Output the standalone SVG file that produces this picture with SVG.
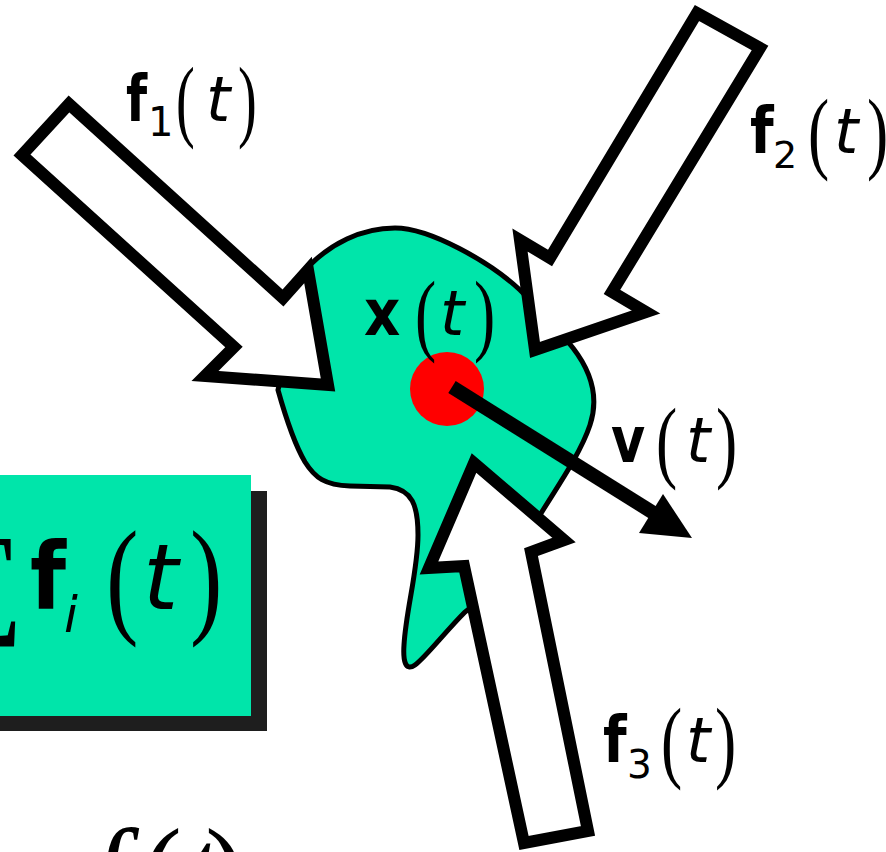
<svg xmlns="http://www.w3.org/2000/svg" width="886" height="852" viewBox="0 0 886 852">
<style>
.blk{stroke:#000;stroke-width:12;stroke-linejoin:miter;stroke-miterlimit:10;fill:#fff}
.bf{font-family:"DejaVu Sans",Verdana,sans-serif;font-weight:bold}
.it{font-family:"DejaVu Sans",Verdana,sans-serif;font-style:oblique}
.rg{font-family:"DejaVu Sans",Verdana,sans-serif}
.pr{font-family:"Liberation Serif","Times New Roman",serif}
.lp{font-family:"Liberation Serif","Times New Roman",serif;font-size:91px}
</style>
<rect width="886" height="852" fill="#fff"/>
<g id="sum-box">
<rect x="-10" y="491" width="277" height="240" fill="#1e1e1e"/>
<rect x="-10" y="475" width="261" height="241" fill="#00e5aa"/>
<text class="pr" x="24" y="620" font-size="124" text-anchor="end">∑</text>
<text class="bf" font-size="92" transform="translate(30,609) scale(0.9,1)">f</text>
<text class="it" x="64" y="632" font-size="50">i</text>
<text class="pr" font-size="130" transform="translate(106,620) scale(0.75,1)">(</text>
<text class="it" x="143" y="609" font-size="90">t</text>
<text class="pr" font-size="130" transform="translate(190,620) scale(0.75,1)">)</text>
</g>
<g id="blob">
<path d="M310,265 C330,245 360,228 395,228 C430,228 490,262 520,290 L550,320 L573,348 C590,370 600,395 590,425 C580,455 555,490 540,515 L520,560 L480,600 L465,612 C445,632 425,658 415,665 C405,672 403,660 404,645 C406,610 418,570 418,535 C418,505 412,490 390,487 L350,486 C325,485 315,478 305,462 C295,445 285,415 278,390 L295,320 Z" fill="#00e5aa" stroke="#000" stroke-width="5"/>
<circle cx="447" cy="389" r="37" fill="#ff0000"/>
<text class="bf" font-size="64" transform="translate(364,335) scale(0.88,1)">x</text>
<text class="lp" transform="translate(415,344) scale(0.7,1)">(</text>
<text class="it" x="440" y="335" font-size="62">t</text>
<text class="lp" transform="translate(474,344) scale(0.7,1)">)</text>
</g>
<g id="force1">
<polygon class="blk" points="69,104 283,298 308,270 328,385 205,376 234,347 22,155"/>
<text class="bf" font-size="64" transform="translate(126,121) scale(0.76,1)">f</text>
<text class="rg" x="148" y="136" font-size="40">1</text>
<text class="lp" transform="translate(176,130) scale(0.62,1)">(</text>
<text class="it" x="206" y="121" font-size="62">t</text>
<text class="lp" transform="translate(238,130) scale(0.62,1)">)</text>
</g>
<g id="force2">
<polygon class="blk" points="697,13 760,48 612,292 646,312 535,350 520,240 550,258"/>
<text class="bf" font-size="64" transform="translate(750,153) scale(0.85,1)">f</text>
<text class="rg" x="773" y="168" font-size="38">2</text>
<text class="lp" transform="translate(808,162) scale(0.7,1)">(</text>
<text class="it" x="834" y="153" font-size="62">t</text>
<text class="lp" transform="translate(867,162) scale(0.7,1)">)</text>
</g>
<g id="force3">
<polygon class="blk" points="474,463 564,540 531,552 588,831 524,843 464,566 429,568"/>
<text class="bf" font-size="64" transform="translate(603,762) scale(0.85,1)">f</text>
<text class="rg" x="627" y="778" font-size="39">3</text>
<text class="lp" transform="translate(661,771) scale(0.7,1)">(</text>
<text class="it" x="686" y="762" font-size="62">t</text>
<text class="lp" transform="translate(715,771) scale(0.7,1)">)</text>
</g>
<g id="connectors">
<line x1="452" y1="387" x2="660" y2="517" stroke="#000" stroke-width="14"/>
<polygon points="692,538 663,494 639,533" fill="#000"/>
</g>
<g id="velocity-label">
<text class="bf" font-size="64" transform="translate(611,462) scale(0.82,1)">v</text>
<text class="lp" transform="translate(656,471) scale(0.7,1)">(</text>
<text class="it" x="686" y="462" font-size="62">t</text>
<text class="lp" transform="translate(716,471) scale(0.7,1)">)</text>
</g>
<g id="bottom-formula">
<text class="pr" x="92" y="912" font-size="120" font-style="italic">f</text>
<text class="pr" x="142" y="912" font-size="120">(</text>
<text class="pr" x="185" y="912" font-size="120" font-style="italic">t</text>
<text class="pr" x="205" y="912" font-size="120">)</text>
</g>
</svg>
